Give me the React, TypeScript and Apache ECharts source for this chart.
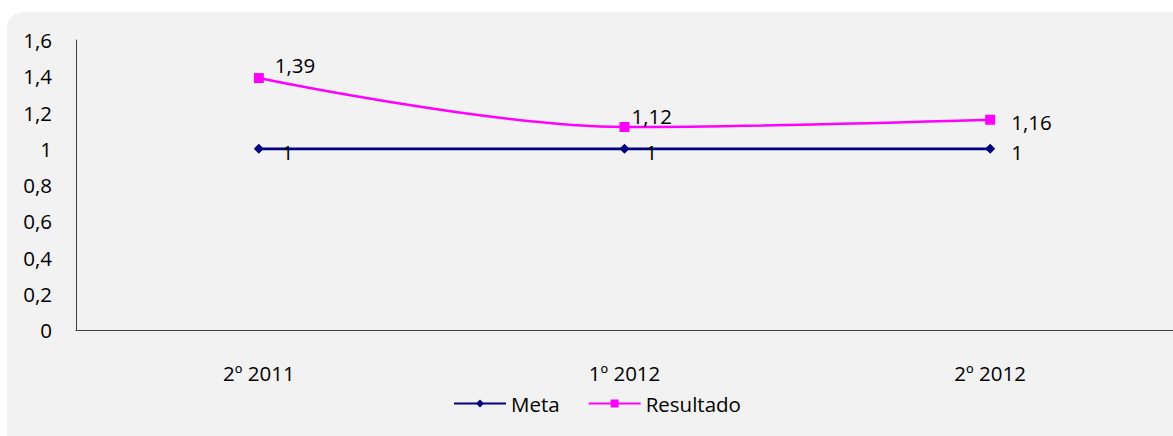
import React, { useEffect, useRef } from "react";
import * as echarts from "echarts";

const categories = ["2º 2011", "1º 2012", "2º 2012"];
const metaValues = [1, 1, 1];
const resultadoValues = [1.39, 1.12, 1.16];
const yTicks = { min: 0, max: 1.6, interval: 0.2 };

const FONT = "Open Sans";
const FS = 20.5;
const fmt = (v: number) => String(Math.round(v * 100) / 100).replace(".", ",");

const metaLabelOffsets = [[23, 3], [21, 3], [21, 3]];
const resLabelOffsets = [[16, -13], [7, -11], [21, 2]];

export default function App() {
  const ref = useRef<HTMLDivElement>(null);
  useEffect(() => {
    if (!ref.current) return;
    const chart = echarts.init(ref.current, null, { renderer: "svg" });
    const labelBase = {
      show: true,
      position: "inside" as const,
      align: "left" as const,
      verticalAlign: "middle" as const,
      color: "#000",
      fontFamily: FONT,
      fontSize: FS,
      formatter: (p: any) => fmt(p.value),
    };
    chart.setOption({
      animation: false,
      graphic: [
        {
          type: "rect",
          z: -10,
          shape: { x: 7, y: 12, width: 1190, height: 440, r: 16 },
          style: { fill: "#f2f2f2" },
        },
      ],
      legend: {
        bottom: 17,
        left: 448,
        itemWidth: 52,
        itemHeight: 10,
        itemGap: 28,
        textStyle: { fontFamily: FONT, fontSize: FS, color: "#000" },
        data: ["Meta", "Resultado"],
      },
      grid: { left: 76, top: 40, width: 1098, height: 290, containLabel: false },
      xAxis: {
        type: "category",
        data: categories,
        boundaryGap: true,
        axisLine: { show: true, lineStyle: { color: "#404040", width: 1 } },
        axisTick: { show: false },
        axisLabel: { margin: 32, fontFamily: FONT, fontSize: FS, color: "#000" },
        splitLine: { show: false },
      },
      yAxis: {
        type: "value",
        min: yTicks.min,
        max: yTicks.max,
        interval: yTicks.interval,
        axisLine: { show: true, lineStyle: { color: "#404040", width: 1 } },
        axisTick: { show: false },
        splitLine: { show: false },
        axisLabel: {
          margin: 24,
          fontFamily: FONT,
          fontSize: FS,
          color: "#000",
          formatter: (v: number) => fmt(v),
        },
      },
      series: [
        {
          name: "Meta",
          type: "line",
          symbol: "diamond",
          symbolSize: 10,
          itemStyle: { color: "#000080" },
          lineStyle: { color: "#000080", width: 2.75 },
          data: metaValues.map((v, i) => ({
            value: v,
            label: { ...labelBase, offset: metaLabelOffsets[i] },
          })),
          label: labelBase,
        },
        {
          name: "Resultado",
          type: "line",
          smooth: 0.35,
          symbol: "rect",
          symbolSize: 10,
          itemStyle: { color: "#ff00ff" },
          lineStyle: { color: "#ff00ff", width: 2.5 },
          data: resultadoValues.map((v, i) => ({
            value: v,
            label: { ...labelBase, offset: resLabelOffsets[i] },
          })),
          label: labelBase,
        },
      ],
    });
    return () => chart.dispose();
  }, []);
  return (
    <div
      ref={ref}
      style={{ position: "absolute", left: 0, top: 0, width: 1173, height: 436 }}
    />
  );
}
